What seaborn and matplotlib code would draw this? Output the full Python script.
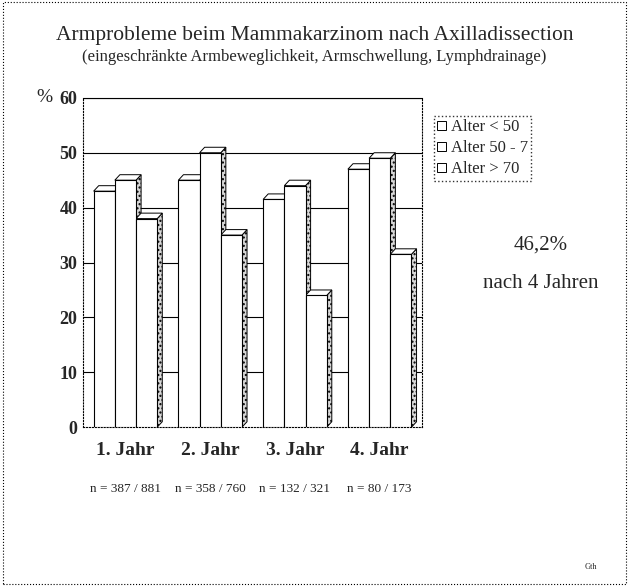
import numpy as np
import pandas as pd
import seaborn as sns
import matplotlib.pyplot as plt
from matplotlib.patches import Polygon, Rectangle

years = ["1. Jahr", "2. Jahr", "3. Jahr", "4. Jahr"]
groups = ["Alter < 50", "Alter 50 - 7", "Alter > 70"]
under50 = [43, 45, 41.5, 47]
age50_70 = [45, 50, 44, 49]
over70 = [38, 35, 24, 31.5]
n_labels = ["n = 387 / 881", "n = 358 / 760", "n = 132 / 321", "n = 80 / 173"]

df = pd.DataFrame({
    "Jahr": years * 3,
    "Alter": [g for g in groups for _ in years],
    "Prozent": under50 + age50_70 + over70,
})

sns.set_style("white")
plt.rcParams["font.family"] = ["Liberation Serif", "DejaVu Serif"]

fig = plt.figure(figsize=(6.29, 5.86), dpi=100)
ax = fig.add_axes([0.132, 0.271, 0.539, 0.562])

sns.barplot(data=df, x="Jahr", y="Prozent", hue="Alter", palette=["white"] * 3,
            edgecolor="black", linewidth=0.8, width=0.75, ax=ax, legend=False)

# fake 3D sides/tops like the old spreadsheet chart
dx, dy = 0.06, 1.0
for i, p in enumerate(ax.patches):
    x0, w, h = p.get_x(), p.get_width(), p.get_height()
    x1 = x0 + w
    top = Polygon([[x0, h], [x0 + dx, h + dy], [x1 + dx, h + dy], [x1, h]],
                  closed=True, facecolor="white", edgecolor="black", lw=0.7, zorder=3)
    side = Polygon([[x1, 0], [x1 + dx, dy], [x1 + dx, h + dy], [x1, h]],
                   closed=True, facecolor="#d8d8d8", edgecolor="black", lw=0.7,
                   hatch="....", zorder=2)
    ax.add_patch(side)
    ax.add_patch(top)
    p.set_zorder(4)

ax.set_ylim(0, 60)
ax.set_xlim(-0.5, 3.5)
ax.set_yticks(range(0, 61, 10))
ax.set_yticklabels([str(v) for v in range(0, 61, 10)], fontsize=13, fontweight="bold")
ax.set_xticks(range(4))
ax.set_xticklabels([])
ax.set_xlabel("")
ax.set_ylabel("")
for v in range(10, 61, 10):
    ax.axhline(v, color="black", lw=0.8, zorder=0)
ax.set_xticks([0.5, 1.5, 2.5], minor=True)
ax.tick_params(axis="x", which="minor", length=4, color="black")
ax.tick_params(axis="y", length=3, color="black", pad=1)
ax.tick_params(axis="x", which="major", length=0)
for s in ["left", "bottom", "right"]:
    ax.spines[s].set_linestyle(":")
    ax.spines[s].set_color("black")
ax.spines["top"].set_color("black")

for i, y in enumerate(years):
    ax.text(i, -0.045, y, transform=ax.get_xaxis_transform(), ha="center", va="top",
            fontsize=14, fontweight="bold")
    ax.text(i, -0.17, n_labels[i], transform=ax.get_xaxis_transform(), ha="center",
            va="top", fontsize=9.5)

ax.text(-0.115, 1.0, "%", transform=ax.transAxes, ha="center", va="center", fontsize=14)

# legend
handles = [Rectangle((0, 0), 1, 1, facecolor="white", edgecolor="black", lw=0.7) for _ in groups]
leg = fig.legend(handles, groups, loc="upper left", bbox_to_anchor=(0.69, 0.802),
                 fontsize=12, frameon=True, handlelength=0.5, handleheight=0.5,
                 handletextpad=0.3, borderpad=0.2, labelspacing=0.3, borderaxespad=0)
leg.get_frame().set_edgecolor("black")
leg.get_frame().set_linestyle(":")
leg.get_frame().set_boxstyle("square", pad=0)

fig.text(0.5, 0.94, "Armprobleme beim Mammakarzinom nach Axilladissection",
         ha="center", va="center", fontsize=15.5)
fig.text(0.5, 0.902, "(eingeschränkte Armbeweglichkeit, Armschwellung, Lymphdrainage)",
         ha="center", va="center", fontsize=12)
fig.text(0.86, 0.582, "46,2%", ha="center", va="center", fontsize=15)
fig.text(0.86, 0.517, "nach 4 Jahren", ha="center", va="center", fontsize=15)
fig.text(0.94, 0.032, "Gth", ha="center", va="center", fontsize=6)

fig.patches.append(Rectangle((0.004, 0.004), 0.992, 0.992, transform=fig.transFigure,
                             fill=False, edgecolor="black", lw=0.8, linestyle=":"))

fig.savefig("out.png", dpi=100)
